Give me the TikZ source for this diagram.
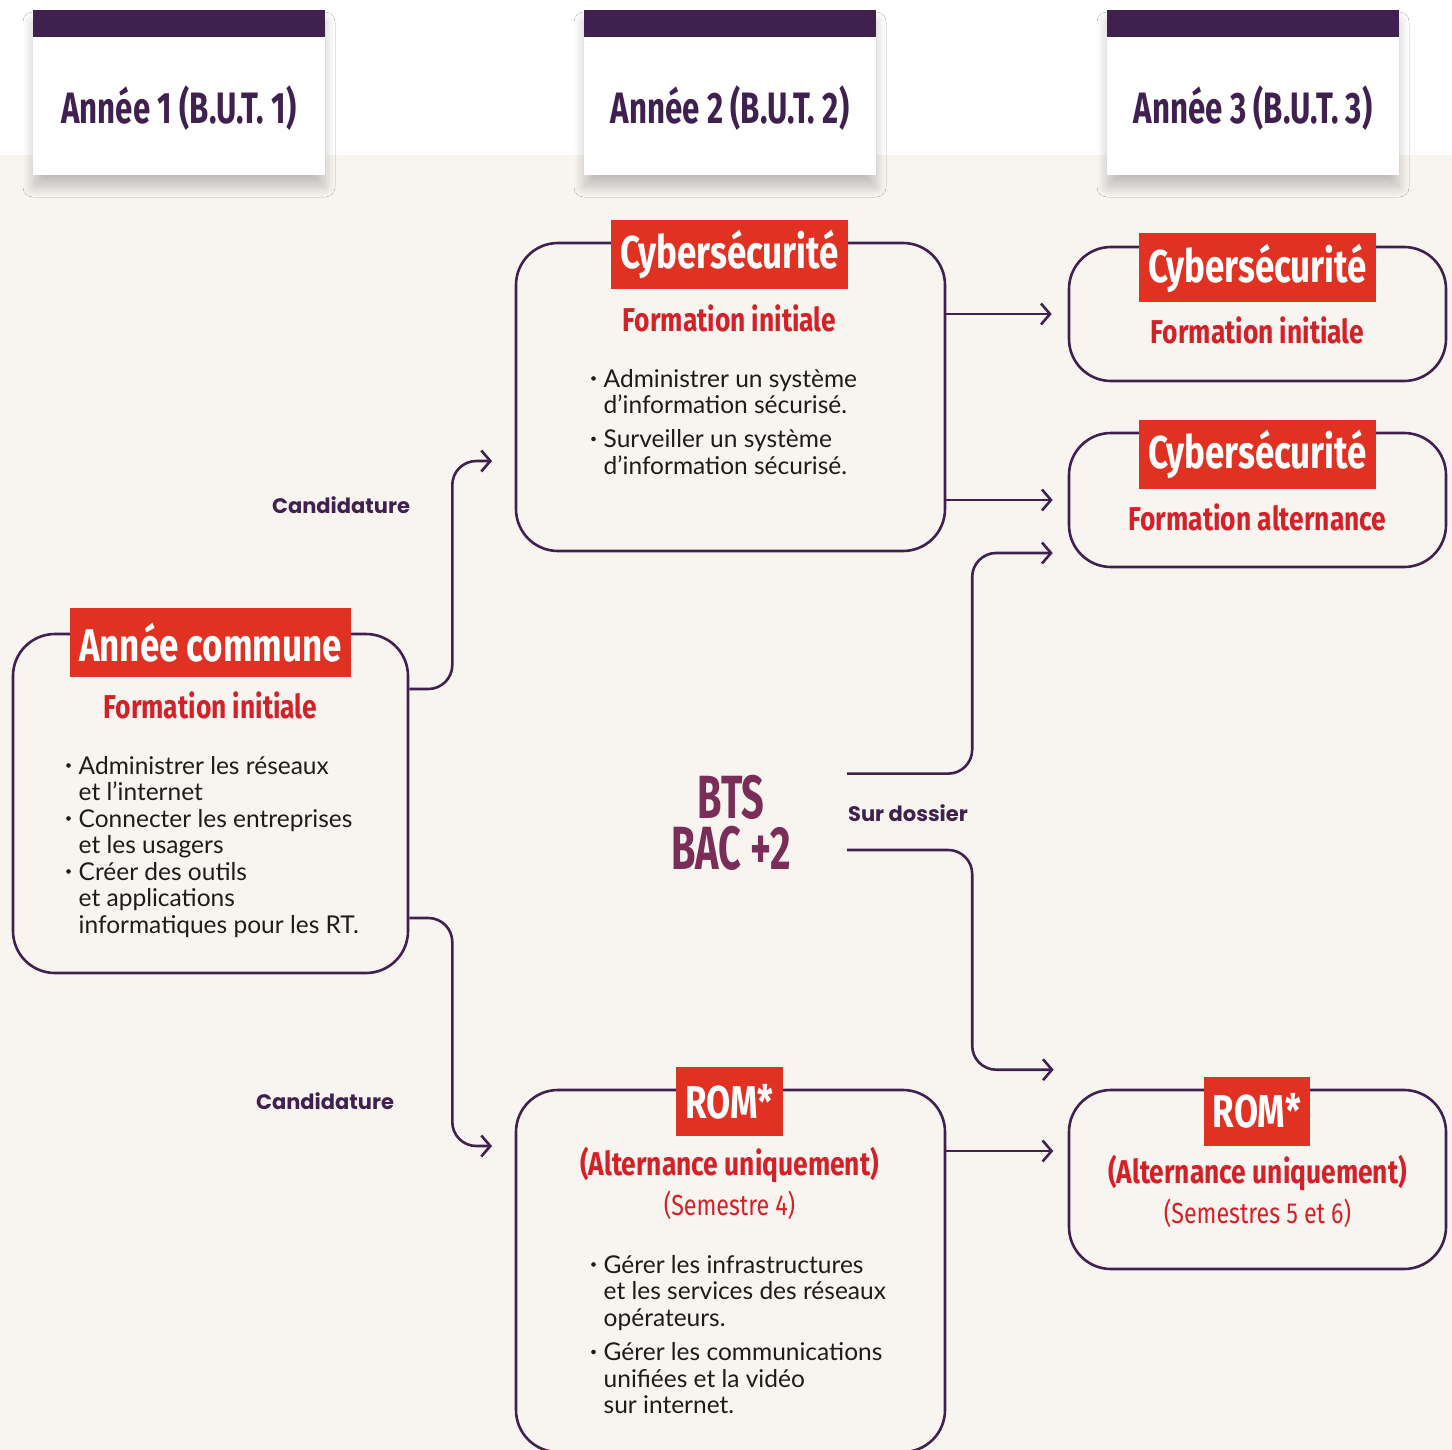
\documentclass[tikz,border=0pt]{standalone}
\usepackage{fontspec}
\setmainfont{Lato}
\newfontfamily\condfont[FakeStretch=0.76]{Fira Sans}
\newfontfamily\entetefont[FakeStretch=0.71]{Fira Sans}
\newfontfamily\sousfont[FakeStretch=0.80]{Fira Sans}
\newfontfamily\btsfont[FakeStretch=0.65]{Fira Sans}
\newfontfamily\notefont{Poppins}
\usetikzlibrary{positioning,arrows.meta,shadows.blur}

\definecolor{violetfonce}{HTML}{40204F}
\definecolor{rougefond}{HTML}{E03123}
\definecolor{rougetexte}{HTML}{D42027}
\definecolor{beige}{HTML}{F8F5F1}
\definecolor{prune}{HTML}{7A2D57}
\definecolor{encre}{HTML}{1C1C1C}

\newcommand{\puce}{\makebox[12.5pt][l]{\raisebox{6.5pt}{\tikz\fill[encre] (0,0) circle (2.3pt);}}}
\newcommand{\suite}{\hspace*{12.5pt}}

\begin{document}
\begin{tikzpicture}[x=1pt,y=-1pt,
  entete/.style={fill=white, minimum width=292pt, minimum height=165pt, inner sep=0pt,
    blur shadow={shadow xshift=0pt, shadow yshift=-12pt, shadow blur radius=10pt,
      shadow blur steps=12, shadow opacity=22}},
  entetetxt/.style={text=violetfonce, inner sep=0pt, font=\entetefont\bfseries\fontsize{44}{44}\selectfont},
  bloc/.style={draw=violetfonce, line width=2.6pt, rounded corners=42pt, inner sep=0pt},
  etiq/.style={fill=rougefond, text=white, inner xsep=9pt, inner ysep=0pt, minimum height=69pt,
    font=\condfont\bfseries\fontsize{46}{46}\selectfont},
  sous/.style={text=rougetexte, inner sep=0pt, font=\sousfont\bfseries\fontsize{33}{33}\selectfont},
  semestre/.style={text=rougetexte, inner sep=0pt, font=\sousfont\fontsize{29}{29}\selectfont},
  liste/.style={text=encre, inner sep=0pt, align=left, anchor=north west,
    font=\fontsize{24.5}{26.5}\selectfont},
  note/.style={text=violetfonce, inner sep=0pt, font=\notefont\bfseries\fontsize{21}{21}\selectfont},
  bts/.style={text=prune, inner sep=0pt, minimum width=232pt,
    font=\btsfont\bfseries\fontsize{61}{61}\selectfont},
  lien/.style={draw=violetfonce, line width=2.6pt, rounded corners=24pt,
    -{Straight Barb[length=9pt,width=21pt]}}
]
\useasboundingbox (0,0) rectangle (1452,1450);
% fond
\fill[white] (0,0) rectangle (1452,155);
\fill[beige] (0,155) rectangle (1452,1450);

% en-tetes des colonnes
\node[entete] (anA) at (179,92.5) {};
\node[entete] (anB) at (730,92.5) {};
\node[entete] (anC) at (1253,92.5) {};
\foreach \n in {anA,anB,anC}
  \fill[violetfonce] (\n.north west) rectangle ([yshift=-27pt]\n.north east);
\node[entetetxt] at (179,108) {Année 1 (B.U.T. 1)};
\node[entetetxt] at (730,108) {Année 2 (B.U.T. 2)};
\node[entetetxt] at (1253,108) {Année 3 (B.U.T. 3)};

% blocs
\node[bloc, minimum width=395pt, minimum height=339pt] (commun) at (210.5,803.5) {};
\node[bloc, minimum width=429pt, minimum height=308pt] (cyberB) at (730.5,397) {};
\node[bloc, minimum width=377pt, minimum height=134pt] (cyberC) at (1257.5,314) {};
\node[bloc, minimum width=377pt, minimum height=134pt] (alterC) at (1257.5,500) {};
\node[bloc, minimum width=429pt, minimum height=362pt] (romB) at (730.5,1271) {};
\node[bloc, minimum width=377pt, minimum height=179pt] (romC) at (1257.5,1179.5) {};

% etiquettes rouges
\node[etiq] (etiqA) at (210.5,642.5) {Année commune};
\node[etiq] (etiqB) at (729.5,254.5) {Cybersécurité};
\node[etiq] (etiqC) at (1257.5,268) {Cybersécurité};
\node[etiq] (etiqD) at (1257.5,454.5) {Cybersécurité};
\node[etiq] (etiqE) at (729.5,1101.5) {ROM*};
\node[etiq] (etiqF) at (1257,1111) {ROM*};

% sous-titres
\node[sous] (sousA) at (210.5,705) {Formation initiale};
\node[sous] (sousB) at (729.5,318) {Formation initiale};
\node[sous] (sousC) at (1257.5,330) {Formation initiale};
\node[sous] (sousD) at (1257.5,517) {Formation alternance};
\node[sous] (sousE) at (729.5,1165) {(Alternance uniquement)};
\node[semestre, below=8pt of sousE] (semE) {(Semestre 4)};
\node[sous] (sousF) at (1257.5,1173) {(Alternance uniquement)};
\node[semestre, below=8pt of sousF] (semF) {(Semestres 5 et 6)};

% listes
\node[liste] (listeA) at (66,756) {\puce Administrer les réseaux\\
  \suite et l’internet\\
  \puce Connecter les entreprises\\
  \suite et les usagers\\
  \puce Créer des outils\\
  \suite et applications\\
  \suite informatiques pour les RT.};
\node[liste] (listeB) at (591,369) {\puce Administrer un système\\
  \suite d’information sécurisé.\\[7.5pt]
  \puce Surveiller un système\\
  \suite d’information sécurisé.};
\node[liste] (listeE) at (591,1255) {\puce Gérer les infrastructures\\
  \suite et les services des réseaux\\
  \suite opérateurs.\\[8pt]
  \puce Gérer les communications\\
  \suite unifiées et la vidéo\\
  \suite sur internet.};

% BTS
\node[bts] (bts) at (731,797) {BTS};
\node[bts] (bac) at (731,848) {BAC +2};

% mentions
\node[note] (candA) at (341,505) {Candidature};
\node[note] (candB) at (325,1101) {Candidature};
\node[note] (dossier) at (908,813) {Sur dossier};

% liaisons
\coordinate (finA) at (492,461);
\coordinate (finB) at (492,1146);
\draw[lien] ([yshift=114.5pt]commun.east) -- ++(43,0) |- (finA);
\draw[lien] ([yshift=-114.5pt]commun.east) -- ++(43,0) |- (finB);
\draw[lien] (cyberB.east |- cyberC.west) -- ([xshift=-16pt]cyberC.west);
\draw[lien] (cyberB.east |- alterC.west) -- ([xshift=-15pt]alterC.west);
\draw[lien] ([yshift=1pt]bts.north east) -- ++(125,0) |- ([xshift=-15pt,yshift=-53pt]alterC.west);
\draw[lien] ([yshift=-2pt]bac.east) -- ++(125,0) |- ([xshift=-14pt,yshift=19pt]romC.north west);
\draw[lien] ([yshift=120pt]romB.east) -- +(107,0);
\end{tikzpicture}
\end{document}
